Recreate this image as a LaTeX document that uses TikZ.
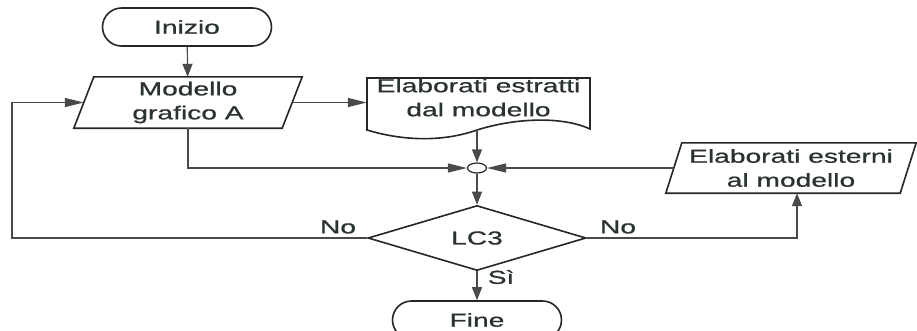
\documentclass[tikz,border=0pt]{standalone}
\usepackage{fontspec}
\setmainfont[FakeStretch=1.5,FakeBold=0.8]{Liberation Sans}
\usetikzlibrary{shapes.geometric,arrows.meta}
\definecolor{linec}{HTML}{4A4A4A}
\definecolor{shapec}{HTML}{262626}
\definecolor{textc}{HTML}{2B3331}
\begin{document}
\begin{tikzpicture}[x=1pt,y=-1pt,
  txt/.style={font=\fontsize{18.8}{24}\selectfont, text=textc, align=center},
  term/.style={txt, draw=shapec, line width=1.6pt, rounded corners=19pt,
    minimum width=169pt, minimum height=38pt, inner sep=0pt},
  boxnode/.style={txt, inner sep=0pt},
  outline/.style={draw=shapec, line width=1.6pt},
  decision/.style={txt, diamond, draw=shapec, line width=1.6pt, inner sep=0pt,
    minimum width=218pt, minimum height=62pt},
  junction/.style={ellipse, draw=shapec, line width=1.2pt, fill=white, inner sep=0pt,
    minimum width=19pt, minimum height=10pt},
  conn/.style={draw=linec, line width=1.2pt},
  varr/.style={conn, -{Triangle[length=13pt,width=10pt]}},
  harr/.style={conn, -{Triangle[length=19pt,width=9pt]}},
  lbl/.style={txt, inner sep=0pt}
]
\useasboundingbox (0,0) rectangle (917,330);
\clip (0,0) rectangle (917,330);
\fill[white] (0,0) rectangle (917,330);

% nodes
\node[term] (start) at (187,27) {Inizio};
\node[boxnode, minimum width=208pt, minimum height=51pt] (m) at (188,102.5) {Modello\\grafico A};
\draw[outline] ([xshift=10pt]m.north west) -- ([xshift=10pt]m.north east)
  -- ([xshift=-10pt]m.south east) -- ([xshift=-10pt]m.south west) -- cycle;

\node[boxnode, minimum width=223pt, minimum height=40pt] (doc) at (478.5,97.5) {Elaborati estratti\\dal modello};
\draw[outline] (367,130) -- (367,78) -- (590,78) -- (590,129)
  .. controls (562,116) and (515,118) .. (477,130)
  .. controls (440,143) and (400,140) .. (367,130) -- cycle;
\coordinate (docb) at (477,130);

\node[junction] (j) at (477,168) {};

\node[boxnode, minimum width=234pt, minimum height=50pt] (e) at (791,168) {Elaborati esterni\\al modello};
\draw[outline] ([xshift=8pt]e.north west) -- ([xshift=8pt]e.north east)
  -- ([xshift=-8pt]e.south east) -- ([xshift=-8pt]e.south west) -- cycle;

\node[decision] (d) at (477,238) {LC3};
\node[term] (fine) at (477,320) {Fine};

\coordinate (lp) at (12,238);
\coordinate (ein) at ([xshift=6pt]e.south);

% connectors
\draw[varr] (start) -- (m);
\draw[harr] (m.east) -- (m.east -| doc.west);
\draw[varr] (docb) -- (j.north);
\draw[harr] (m.south) |- (j.west);
\draw[harr] (e.west) -- (j.east);
\draw[varr] (j.south) -- (d.north);
\draw[harr] (d.west) -- (lp) |- (m.west);
\draw[varr] (d.east) -| (ein);
\draw[varr] (d.south) -- (fine.north);

% labels
\node[lbl] (nol) at (338,227) {No};
\node[lbl] (nor) at (618,227) {No};
\node[lbl] (si) at (501,277) {Sì};
\end{tikzpicture}
\end{document}
